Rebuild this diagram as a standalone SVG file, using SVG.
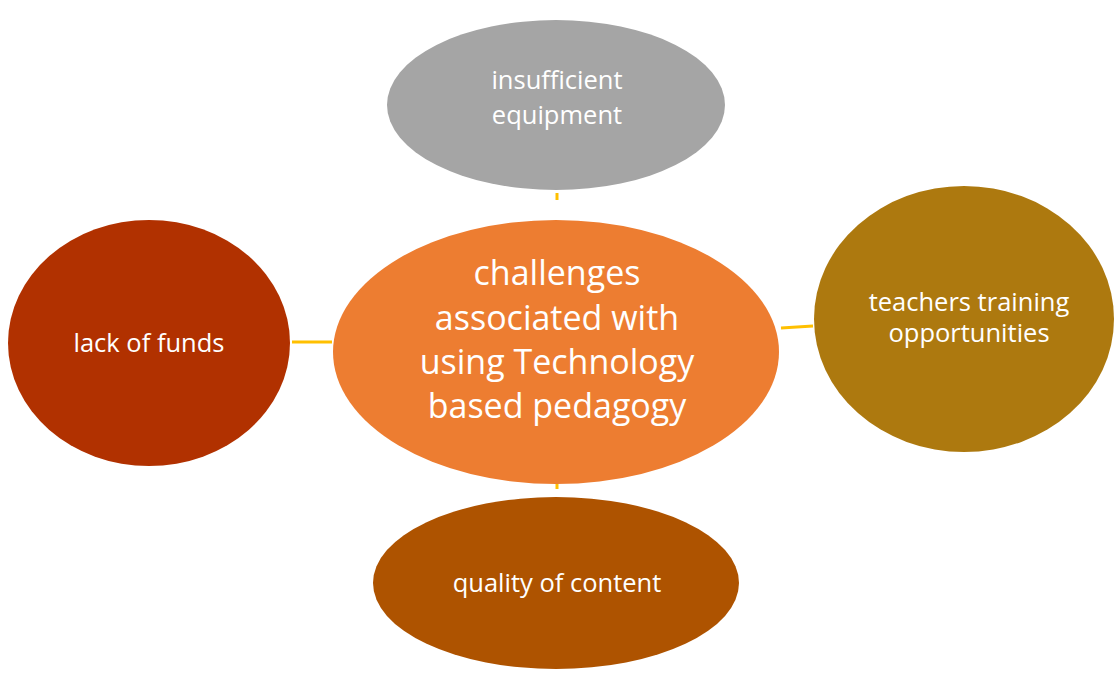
<svg xmlns="http://www.w3.org/2000/svg" width="1114" height="673" viewBox="0 0 1114 673">
  <style>
    .lbl { font-family: "Open Sans", "Liberation Sans", sans-serif; fill: #ffffff; text-anchor: middle; }
    .small { font-size: 25.5px; }
    .big { font-size: 34px; }
    .conn { stroke: #FFC000; stroke-width: 3; fill: none; }
  </style>
  <rect width="1114" height="673" fill="#ffffff"/>
  <g id="connectors">
    <line class="conn" x1="557" y1="193" x2="557" y2="200"/>
    <line class="conn" x1="292" y1="342" x2="332" y2="342"/>
    <line class="conn" x1="781" y1="328" x2="813" y2="326"/>
    <line class="conn" x1="557" y1="482" x2="557" y2="489"/>
  </g>
  <g id="center">
    <ellipse cx="556" cy="352" rx="223" ry="132" fill="#ED7D31"/>
    <text class="lbl big" x="557" y="285">challenges</text>
    <text class="lbl big" x="557" y="330">associated with</text>
    <text class="lbl big" x="557" y="374">using Technology</text>
    <text class="lbl big" x="557" y="418">based pedagogy</text>
  </g>
  <g id="equipment">
    <ellipse cx="556" cy="105" rx="169" ry="85" fill="#A5A5A5"/>
    <text class="lbl small" x="557" y="89">insufficient</text>
    <text class="lbl small" x="557" y="124">equipment</text>
  </g>
  <g id="funds">
    <ellipse cx="149" cy="343" rx="141" ry="123" fill="#B13100"/>
    <text class="lbl small" x="149" y="352">lack of funds</text>
  </g>
  <g id="training">
    <ellipse cx="964" cy="319" rx="150" ry="133" fill="#AD790F"/>
    <text class="lbl small" x="969" y="311">teachers training</text>
    <text class="lbl small" x="969" y="342">opportunities</text>
  </g>
  <g id="content">
    <ellipse cx="556" cy="583" rx="183" ry="86" fill="#AE5300"/>
    <text class="lbl small" x="557" y="592">quality of content</text>
  </g>
</svg>
